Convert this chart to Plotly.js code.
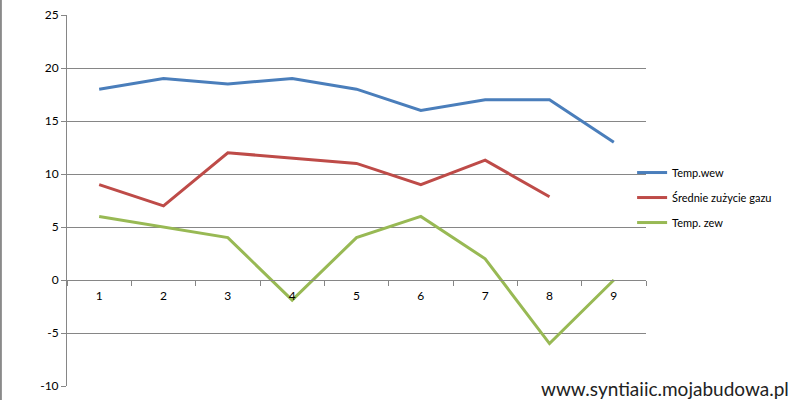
<!DOCTYPE html>
<html>
<head>
<meta charset="utf-8">
<script src="https://cdn.plot.ly/plotly-3.0.1.min.js"></script>
<style>html,body{margin:0;padding:0;background:#fff;}#chart{width:794px;height:400px;}</style>
</head>
<body>
<div id="chart"></div>
<script>
const categories = ['1','2','3','4','5','6','7','8','9'];
const tempWew = [18, 19, 18.5, 19, 18, 16, 17, 17, 13];
const zuzycieGazu = [9, 7, 12, 11.5, 11, 9, 11.3, 7.85, null];
const tempZew = [6, 5, 4, -1.9, 4, 6, 2, -6, 0];
const seriesNames = ['Temp.wew', 'Średnie zużycie gazu', 'Temp. zew'];
const yTicks = [-10, -5, 0, 5, 10, 15, 20, 25];

const colors = ['#4A7EBB', '#BE4B48', '#98B954'];
const series = [tempWew, zuzycieGazu, tempZew];

const traces = series.map((vals, i) => ({
  x: categories,
  y: vals,
  type: 'scatter',
  mode: 'lines',
  name: seriesNames[i],
  legendgroup: 'g' + i,
  line: {color: colors[i], width: 3},
  connectgaps: false
}));

const font = 'Lato, "Open Sans", "DejaVu Sans", sans-serif';

const layout = {
  width: 794,
  height: 400,
  margin: {l: 67, r: 148, t: 15, b: 14},
  paper_bgcolor: '#ffffff',
  plot_bgcolor: '#ffffff',
  font: {family: font, size: 11, color: '#000'},
  showlegend: true,
  legend: {
    x: 0.976, y: 0.508, xanchor: 'left', yanchor: 'middle',
    font: {family: font, size: 11, color: '#000'},
    traceorder: 'grouped', tracegroupgap: 6,
    bgcolor: 'rgba(0,0,0,0)', borderwidth: 0
  },
  xaxis: {
    type: 'category',
    range: [-0.5, 8.5],
    anchor: 'free',
    position: 10/35,
    showline: true, linecolor: '#868686', linewidth: 1,
    ticks: 'outside', tickson: 'boundaries', ticklen: 5, tickcolor: '#868686',
    ticklabelstandoff: 5,
    showgrid: false, zeroline: false,
    tickfont: {family: font, size: 12, color: '#000'},
    fixedrange: true
  },
  yaxis: {
    range: [-10, 25],
    tickvals: yTicks,
    ticktext: yTicks.map(String),
    showline: true, linecolor: '#868686', linewidth: 1,
    ticks: 'outside', ticklen: 5, tickcolor: '#868686',
    showgrid: true, gridcolor: '#868686', gridwidth: 1,
    zeroline: false,
    tickfont: {family: font, size: 12, color: '#000'},
    fixedrange: true
  },
  shapes: [{
    type: 'line', xref: 'paper', yref: 'paper',
    x0: -0.1142, x1: -0.1142, y0: -0.04, y1: 1.05,
    line: {color: '#8a8a8a', width: 2}
  }],
  annotations: [{
    xref: 'paper', yref: 'paper',
    x: 1.25, y: -0.008, xanchor: 'right', yanchor: 'middle',
    text: 'www.syntiaiic.mojabudowa.pl',
    showarrow: false,
    bgcolor: '#ffffff',
    font: {family: 'Lato, "DejaVu Sans", sans-serif', size: 19, color: '#222'}
  }]
};

Plotly.newPlot('chart', traces, layout, {displayModeBar: false, staticPlot: true});
</script>
</body>
</html>
